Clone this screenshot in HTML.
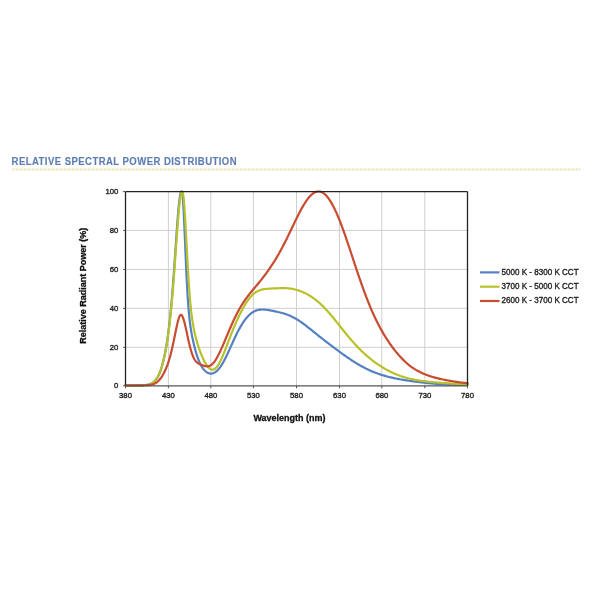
<!DOCTYPE html>
<html><head><meta charset="utf-8"><style>
html,body{margin:0;padding:0;background:#fff;width:600px;height:600px;overflow:hidden}
svg{display:block;position:absolute;left:0;top:0;filter:blur(0.4px)}
text{font-family:"Liberation Sans",sans-serif}
</style></head><body>
<svg width="600" height="600" viewBox="0 0 600 600">
<g transform="translate(11.6,0) scale(0.9,1)"><text x="0" y="164.8" font-size="10.6" font-weight="bold" fill="#5d7db2" stroke="#5d7db2" stroke-width="0.15" textLength="250" lengthAdjust="spacing">RELATIVE SPECTRAL POWER DISTRIBUTION</text></g>
<line x1="12" y1="169.4" x2="581" y2="169.4" stroke="#faf7e2" stroke-width="3"/><line x1="12" y1="169.4" x2="581" y2="169.4" stroke="#ede8c8" stroke-width="1.6" stroke-dasharray="2 2"/>
<g stroke="#cfcfcf" stroke-width="1"><line x1="168.40" y1="191.60" x2="168.40" y2="385.80"/><line x1="210.80" y1="191.60" x2="210.80" y2="385.80"/><line x1="253.40" y1="191.60" x2="253.40" y2="385.80"/><line x1="296.50" y1="191.60" x2="296.50" y2="385.80"/><line x1="339.50" y1="191.60" x2="339.50" y2="385.80"/><line x1="381.80" y1="191.60" x2="381.80" y2="385.80"/><line x1="424.80" y1="191.60" x2="424.80" y2="385.80"/><line x1="125.50" y1="347.30" x2="467.50" y2="347.30"/><line x1="125.50" y1="308.35" x2="467.50" y2="308.35"/><line x1="125.50" y1="269.40" x2="467.50" y2="269.40"/><line x1="125.50" y1="230.40" x2="467.50" y2="230.40"/></g>
<g fill="none" stroke-width="2.2" stroke-linejoin="round" stroke-linecap="round">
<path d="M125.50,385.50 126.50,385.50 127.50,385.49 128.50,385.49 129.50,385.49 130.50,385.49 131.50,385.48 132.50,385.48 133.50,385.47 134.50,385.47 135.50,385.46 136.50,385.44 137.50,385.43 138.50,385.41 139.50,385.38 140.50,385.35 141.50,385.31 142.50,385.26 143.50,385.20 144.50,385.12 145.50,385.01 146.50,384.88 147.50,384.71 148.50,384.49 149.50,384.22 150.50,383.87 151.50,383.43 152.50,382.87 153.50,382.18 154.50,381.32 155.50,380.26 156.50,378.97 157.50,377.41 158.50,375.55 159.50,373.34 160.50,370.74 161.50,367.73 162.50,364.27 163.50,360.31 164.50,355.81 165.00,353.34 165.25,352.05 165.50,350.72 165.75,349.35 166.00,347.94 166.25,346.48 166.50,344.98 166.75,343.43 167.00,341.83 167.25,340.19 167.50,338.49 167.75,336.74 168.00,334.93 168.25,333.07 168.50,331.15 168.75,329.16 169.00,327.11 169.25,325.00 169.50,322.82 169.75,320.57 170.00,318.25 170.25,315.86 170.50,313.39 170.75,310.84 171.00,308.22 171.25,305.52 171.50,302.74 171.75,299.88 172.00,296.95 172.25,293.93 172.50,290.84 172.75,287.67 173.00,284.43 173.25,281.12 173.50,277.74 173.75,274.30 174.00,270.81 174.25,267.26 174.50,263.67 174.75,260.04 175.00,256.39 175.25,252.72 175.50,249.04 175.75,245.36 176.00,241.69 176.25,238.05 176.50,234.45 176.75,230.90 177.00,227.42 177.25,224.01 177.50,220.70 177.75,217.50 178.00,214.42 178.25,211.47 178.50,208.68 178.75,206.06 179.00,203.61 179.25,201.36 179.50,199.31 179.75,197.48 180.00,195.88 180.25,194.51 180.50,193.39 180.75,192.52 181.00,191.91 181.25,191.56 181.50,191.48 181.75,191.67 182.00,192.18 182.25,193.33 182.50,195.16 182.75,197.65 183.00,200.76 183.25,204.44 183.50,208.65 183.75,213.31 184.00,218.36 184.25,223.73 184.50,229.34 184.75,235.13 185.00,241.02 185.25,246.95 185.50,252.85 185.75,258.66 186.00,264.35 186.25,269.86 186.50,275.16 186.75,280.22 187.00,285.03 187.25,289.57 187.50,293.84 187.75,297.83 188.00,301.55 188.25,305.00 188.50,308.21 188.75,311.18 189.00,313.93 189.25,316.47 189.50,318.83 189.75,321.02 190.00,323.06 190.25,324.97 190.50,326.76 190.75,328.44 191.00,330.03 191.25,331.54 191.50,332.98 191.75,334.35 192.00,335.68 192.25,336.95 192.50,338.18 192.75,339.38 193.00,340.54 193.25,341.66 193.50,342.76 193.75,343.83 194.00,344.88 194.25,345.90 194.50,346.90 194.75,347.87 195.00,348.82 195.25,349.75 195.50,350.65 195.75,351.53 196.00,352.40 196.25,353.24 196.50,354.05 196.75,354.85 197.00,355.62 197.25,356.38 197.50,357.11 197.75,357.82 198.00,358.52 198.25,359.19 198.50,359.84 198.75,360.47 199.00,361.08 199.25,361.68 199.50,362.25 199.75,362.81 200.00,363.35 200.25,363.87 200.50,364.37 200.75,364.85 201.00,365.32 201.25,365.77 201.50,366.21 201.75,366.63 202.00,367.04 202.25,367.43 202.50,367.80 202.75,368.16 203.00,368.51 203.25,368.85 203.50,369.17 203.75,369.47 204.00,369.77 204.25,370.05 204.50,370.32 204.75,370.58 205.00,370.82 205.25,371.06 205.50,371.28 205.75,371.49 206.00,371.69 206.25,371.88 206.50,372.06 206.75,372.23 207.00,372.39 207.25,372.53 207.50,372.67 207.75,372.80 208.00,372.92 208.25,373.03 208.50,373.12 208.75,373.21 209.00,373.29 209.25,373.36 209.50,373.42 209.75,373.47 210.00,373.51 210.25,373.54 210.50,373.57 210.75,373.58 211.00,373.58 211.25,373.58 211.50,373.56 211.75,373.54 212.00,373.50 212.25,373.46 212.50,373.40 212.75,373.34 213.00,373.27 213.25,373.19 213.50,373.10 213.75,373.00 214.00,372.88 214.25,372.76 214.50,372.64 214.75,372.50 215.00,372.35 216.00,371.66 217.00,370.81 218.00,369.81 219.00,368.67 220.00,367.37 221.00,365.94 222.00,364.38 223.00,362.68 224.00,360.88 225.00,358.97 226.00,356.98 227.00,354.91 228.00,352.78 229.00,350.60 230.00,348.39 231.00,346.17 232.00,343.95 233.00,341.74 234.00,339.56 235.00,337.42 236.00,335.32 237.00,333.29 238.00,331.32 239.00,329.42 240.00,327.60 241.00,325.87 242.00,324.22 243.00,322.66 244.00,321.19 245.00,319.82 246.00,318.53 247.00,317.34 248.00,316.24 249.00,315.23 250.00,314.31 251.00,313.48 252.00,312.74 253.00,312.08 254.00,311.51 255.00,311.02 256.00,310.60 257.00,310.26 258.00,309.99 259.00,309.79 260.00,309.64 261.00,309.55 262.00,309.51 263.00,309.51 264.00,309.56 265.00,309.63 266.00,309.74 267.00,309.87 268.00,310.02 269.00,310.18 270.00,310.36 271.00,310.55 272.00,310.75 273.00,310.95 274.00,311.15 275.00,311.36 276.00,311.57 277.00,311.79 278.00,312.01 279.00,312.24 280.00,312.48 281.00,312.73 282.00,312.99 283.00,313.26 284.00,313.56 285.00,313.86 286.00,314.19 287.00,314.54 288.00,314.91 289.00,315.31 290.00,315.73 291.00,316.18 292.00,316.66 293.00,317.16 294.00,317.68 295.00,318.24 296.00,318.82 297.00,319.42 298.00,320.05 299.00,320.70 300.00,321.37 301.00,322.06 302.00,322.76 303.00,323.49 304.00,324.23 305.00,324.98 306.00,325.74 307.00,326.51 308.00,327.30 309.00,328.08 310.00,328.88 311.00,329.68 312.00,330.48 313.00,331.28 314.00,332.08 315.00,332.89 316.00,333.69 317.00,334.49 318.00,335.30 319.00,336.09 320.00,336.89 321.00,337.68 322.00,338.47 323.00,339.26 324.00,340.04 325.00,340.82 326.00,341.60 327.00,342.37 328.00,343.14 329.00,343.90 330.00,344.67 331.00,345.43 332.00,346.18 333.00,346.94 334.00,347.69 335.00,348.43 336.00,349.18 337.00,349.92 338.00,350.65 339.00,351.39 340.00,352.12 341.00,352.84 342.00,353.56 343.00,354.28 344.00,354.99 345.00,355.70 346.00,356.40 347.00,357.09 348.00,357.78 349.00,358.46 350.00,359.14 351.00,359.80 352.00,360.46 353.00,361.11 354.00,361.75 355.00,362.38 356.00,363.01 357.00,363.62 358.00,364.22 359.00,364.81 360.00,365.39 361.00,365.95 362.00,366.51 363.00,367.05 364.00,367.58 365.00,368.10 366.00,368.61 367.00,369.10 368.00,369.58 369.00,370.05 370.00,370.50 371.00,370.95 372.00,371.38 373.00,371.79 374.00,372.20 375.00,372.59 376.00,372.97 377.00,373.34 378.00,373.70 379.00,374.04 380.00,374.38 381.00,374.70 382.00,375.02 383.00,375.32 384.00,375.62 385.00,375.90 386.00,376.18 387.00,376.44 388.00,376.70 389.00,376.95 390.00,377.20 391.00,377.43 392.00,377.66 393.00,377.88 394.00,378.10 395.00,378.31 396.00,378.51 397.00,378.71 398.00,378.91 399.00,379.10 400.00,379.28 401.00,379.46 402.00,379.64 403.00,379.81 404.00,379.98 405.00,380.14 406.00,380.31 407.00,380.46 408.00,380.62 409.00,380.77 410.00,380.92 411.00,381.07 412.00,381.21 413.00,381.35 414.00,381.49 415.00,381.63 416.00,381.76 417.00,381.89 418.00,382.02 419.00,382.14 420.00,382.26 421.00,382.38 422.00,382.50 423.00,382.61 424.00,382.72 425.00,382.83 426.00,382.94 427.00,383.04 428.00,383.14 429.00,383.24 430.00,383.33 431.00,383.43 432.00,383.52 433.00,383.60 434.00,383.68 435.00,383.76 436.00,383.84 437.00,383.92 438.00,383.99 439.00,384.05 440.00,384.12 441.00,384.18 442.00,384.24 443.00,384.30 444.00,384.35 445.00,384.40 446.00,384.45 447.00,384.50 448.00,384.54 449.00,384.58 450.00,384.62 451.00,384.66 452.00,384.69 453.00,384.72 454.00,384.75 455.00,384.78 456.00,384.81 457.00,384.83 458.00,384.85 459.00,384.88 460.00,384.89 461.00,384.91 462.00,384.93 463.00,384.94 464.00,384.96 465.00,384.97 466.00,384.98 467.00,385.00 467.50,385.00" stroke="#5580c4"/>
<path d="M125.50,385.50 126.50,385.50 127.50,385.50 128.50,385.50 129.50,385.50 130.50,385.50 131.50,385.50 132.50,385.50 133.50,385.50 134.50,385.49 135.50,385.49 136.50,385.49 137.50,385.48 138.50,385.47 139.50,385.45 140.50,385.43 141.50,385.41 142.50,385.37 143.50,385.31 144.50,385.24 145.50,385.15 146.50,385.02 147.50,384.85 148.50,384.62 149.50,384.33 150.50,383.96 151.50,383.49 152.50,382.90 153.50,382.17 154.50,381.26 155.50,380.16 156.50,378.83 157.50,377.23 158.50,375.35 159.50,373.14 160.50,370.58 161.50,367.63 162.50,364.26 163.50,360.43 164.50,356.10 165.00,353.74 165.25,352.50 165.50,351.23 165.75,349.91 166.00,348.56 166.25,347.17 166.50,345.73 166.75,344.25 167.00,342.72 167.25,341.15 167.50,339.53 167.75,337.86 168.00,336.13 168.25,334.36 168.50,332.52 168.75,330.63 169.00,328.68 169.25,326.67 169.50,324.59 169.75,322.46 170.00,320.25 170.25,317.98 170.50,315.63 170.75,313.22 171.00,310.73 171.25,308.17 171.50,305.54 171.75,302.83 172.00,300.06 172.25,297.20 172.50,294.28 172.75,291.28 173.00,288.22 173.25,285.09 173.50,281.90 173.75,278.64 174.00,275.33 174.25,271.97 174.50,268.56 174.75,265.12 175.00,261.63 175.25,258.13 175.50,254.60 175.75,251.07 176.00,247.53 176.25,244.00 176.50,240.50 176.75,237.02 177.00,233.58 177.25,230.20 177.50,226.89 177.75,223.65 178.00,220.50 178.25,217.45 178.50,214.51 178.75,211.70 179.00,209.04 179.25,206.52 179.50,204.16 179.75,201.97 180.00,199.97 180.25,198.16 180.50,196.56 180.75,195.16 181.00,193.98 181.25,193.02 181.50,192.29 181.75,191.79 182.00,191.53 182.25,191.51 182.50,191.74 182.75,192.38 183.00,193.48 183.25,195.02 183.50,196.98 183.75,199.35 184.00,202.10 184.25,205.20 184.50,208.62 184.75,212.33 185.00,216.30 185.25,220.48 185.50,224.83 185.75,229.33 186.00,233.93 186.25,238.60 186.50,243.30 186.75,248.00 187.00,252.66 187.25,257.27 187.50,261.79 187.75,266.21 188.00,270.51 188.25,274.66 188.50,278.66 188.75,282.51 189.00,286.18 189.25,289.68 189.50,293.02 189.75,296.17 190.00,299.17 190.25,301.99 190.50,304.66 190.75,307.17 191.00,309.54 191.25,311.77 191.50,313.87 191.75,315.85 192.00,317.73 192.25,319.49 192.50,321.17 192.75,322.76 193.00,324.26 193.25,325.70 193.50,327.07 193.75,328.39 194.00,329.64 194.25,330.85 194.50,332.02 194.75,333.14 195.00,334.23 195.25,335.28 195.50,336.31 195.75,337.30 196.00,338.27 196.25,339.21 196.50,340.13 196.75,341.03 197.00,341.91 197.25,342.77 197.50,343.61 197.75,344.43 198.00,345.23 198.25,346.02 198.50,346.79 198.75,347.55 199.00,348.29 199.25,349.02 199.50,349.73 199.75,350.43 200.00,351.12 200.25,351.79 200.50,352.45 200.75,353.10 201.00,353.73 201.25,354.36 201.50,354.97 201.75,355.57 202.00,356.16 202.25,356.74 202.50,357.30 202.75,357.86 203.00,358.40 203.25,358.93 203.50,359.46 203.75,359.97 204.00,360.47 204.25,360.96 204.50,361.44 204.75,361.91 205.00,362.36 205.25,362.81 205.50,363.24 205.75,363.66 206.00,364.07 206.25,364.47 206.50,364.85 206.75,365.23 207.00,365.59 207.25,365.93 207.50,366.27 207.75,366.58 208.00,366.89 208.25,367.18 208.50,367.46 208.75,367.72 209.00,367.96 209.25,368.19 209.50,368.41 209.75,368.61 210.00,368.79 210.25,368.96 210.50,369.10 210.75,369.24 211.00,369.35 211.25,369.45 211.50,369.53 211.75,369.59 212.00,369.63 212.25,369.66 212.50,369.67 212.75,369.66 213.00,369.63 213.25,369.58 213.50,369.51 213.75,369.43 214.00,369.33 214.25,369.21 214.50,369.07 214.75,368.91 215.00,368.74 216.00,367.86 217.00,366.72 218.00,365.32 219.00,363.68 220.00,361.83 221.00,359.79 222.00,357.59 223.00,355.26 224.00,352.82 225.00,350.29 226.00,347.72 227.00,345.10 228.00,342.47 229.00,339.85 230.00,337.25 231.00,334.68 232.00,332.15 233.00,329.67 234.00,327.25 235.00,324.88 236.00,322.58 237.00,320.35 238.00,318.17 239.00,316.07 240.00,314.02 241.00,312.05 242.00,310.14 243.00,308.30 244.00,306.53 245.00,304.83 246.00,303.22 247.00,301.69 248.00,300.24 249.00,298.89 250.00,297.62 251.00,296.46 252.00,295.38 253.00,294.41 254.00,293.53 255.00,292.75 256.00,292.06 257.00,291.46 258.00,290.93 259.00,290.48 260.00,290.11 261.00,289.79 262.00,289.53 263.00,289.32 264.00,289.14 265.00,289.00 266.00,288.89 267.00,288.80 268.00,288.73 269.00,288.66 270.00,288.61 271.00,288.56 272.00,288.51 273.00,288.47 274.00,288.42 275.00,288.38 276.00,288.33 277.00,288.29 278.00,288.25 279.00,288.21 280.00,288.18 281.00,288.15 282.00,288.14 283.00,288.13 284.00,288.14 285.00,288.16 286.00,288.20 287.00,288.26 288.00,288.33 289.00,288.43 290.00,288.54 291.00,288.68 292.00,288.84 293.00,289.02 294.00,289.23 295.00,289.46 296.00,289.72 297.00,289.99 298.00,290.30 299.00,290.63 300.00,290.98 301.00,291.35 302.00,291.75 303.00,292.18 304.00,292.63 305.00,293.10 306.00,293.61 307.00,294.13 308.00,294.68 309.00,295.26 310.00,295.87 311.00,296.50 312.00,297.16 313.00,297.85 314.00,298.57 315.00,299.32 316.00,300.10 317.00,300.90 318.00,301.74 319.00,302.60 320.00,303.50 321.00,304.42 322.00,305.37 323.00,306.35 324.00,307.36 325.00,308.40 326.00,309.46 327.00,310.54 328.00,311.65 329.00,312.78 330.00,313.93 331.00,315.10 332.00,316.29 333.00,317.50 334.00,318.72 335.00,319.95 336.00,321.19 337.00,322.43 338.00,323.69 339.00,324.95 340.00,326.21 341.00,327.47 342.00,328.73 343.00,329.98 344.00,331.23 345.00,332.48 346.00,333.71 347.00,334.94 348.00,336.15 349.00,337.35 350.00,338.53 351.00,339.71 352.00,340.86 353.00,342.00 354.00,343.12 355.00,344.22 356.00,345.30 357.00,346.37 358.00,347.41 359.00,348.44 360.00,349.44 361.00,350.43 362.00,351.40 363.00,352.35 364.00,353.28 365.00,354.19 366.00,355.08 367.00,355.95 368.00,356.81 369.00,357.64 370.00,358.46 371.00,359.27 372.00,360.05 373.00,360.82 374.00,361.57 375.00,362.31 376.00,363.03 377.00,363.74 378.00,364.43 379.00,365.10 380.00,365.76 381.00,366.41 382.00,367.04 383.00,367.66 384.00,368.26 385.00,368.84 386.00,369.41 387.00,369.97 388.00,370.51 389.00,371.03 390.00,371.54 391.00,372.04 392.00,372.52 393.00,372.98 394.00,373.43 395.00,373.87 396.00,374.29 397.00,374.70 398.00,375.09 399.00,375.47 400.00,375.83 401.00,376.18 402.00,376.52 403.00,376.84 404.00,377.15 405.00,377.44 406.00,377.73 407.00,378.00 408.00,378.26 409.00,378.51 410.00,378.75 411.00,378.98 412.00,379.19 413.00,379.40 414.00,379.60 415.00,379.79 416.00,379.97 417.00,380.14 418.00,380.31 419.00,380.47 420.00,380.62 421.00,380.77 422.00,380.91 423.00,381.04 424.00,381.17 425.00,381.30 426.00,381.42 427.00,381.53 428.00,381.65 429.00,381.75 430.00,381.86 431.00,381.96 432.00,382.06 433.00,382.15 434.00,382.25 435.00,382.34 436.00,382.43 437.00,382.51 438.00,382.60 439.00,382.68 440.00,382.76 441.00,382.84 442.00,382.91 443.00,382.99 444.00,383.06 445.00,383.13 446.00,383.20 447.00,383.27 448.00,383.34 449.00,383.41 450.00,383.47 451.00,383.53 452.00,383.60 453.00,383.66 454.00,383.72 455.00,383.77 456.00,383.83 457.00,383.89 458.00,383.94 459.00,384.00 460.00,384.05 461.00,384.10 462.00,384.15 463.00,384.20 464.00,384.24 465.00,384.29 466.00,384.33 467.00,384.38 467.50,384.40" stroke="#b7c22a"/>
<path d="M125.50,385.42 126.50,385.41 127.50,385.41 128.50,385.41 129.50,385.40 130.50,385.40 131.50,385.40 132.50,385.39 133.50,385.39 134.50,385.38 135.50,385.38 136.50,385.37 137.50,385.36 138.50,385.36 139.50,385.35 140.50,385.34 141.50,385.33 142.50,385.31 143.50,385.30 144.50,385.27 145.50,385.24 146.50,385.20 147.50,385.14 148.50,385.06 149.50,384.95 150.50,384.81 151.50,384.62 152.50,384.37 153.50,384.06 154.50,383.65 155.50,383.14 156.50,382.52 157.50,381.76 158.50,380.86 159.50,379.79 160.50,378.56 161.50,377.16 162.50,375.58 163.50,373.82 164.50,371.87 165.00,370.81 165.25,370.27 165.50,369.71 165.75,369.14 166.00,368.55 166.25,367.95 166.50,367.33 166.75,366.70 167.00,366.05 167.25,365.38 167.50,364.70 167.75,364.00 168.00,363.28 168.25,362.55 168.50,361.79 168.75,361.01 169.00,360.22 169.25,359.40 169.50,358.56 169.75,357.70 170.00,356.81 170.25,355.91 170.50,354.98 170.75,354.02 171.00,353.05 171.25,352.05 171.50,351.02 171.75,349.98 172.00,348.91 172.25,347.82 172.50,346.71 172.75,345.58 173.00,344.43 173.25,343.27 173.50,342.08 173.75,340.89 174.00,339.68 174.25,338.46 174.50,337.23 174.75,336.00 175.00,334.77 175.25,333.53 175.50,332.30 175.75,331.08 176.00,329.87 176.25,328.68 176.50,327.50 176.75,326.35 177.00,325.22 177.25,324.12 177.50,323.07 177.75,322.05 178.00,321.08 178.25,320.16 178.50,319.29 178.75,318.49 179.00,317.75 179.25,317.09 179.50,316.50 179.75,315.99 180.00,315.57 180.25,315.23 180.50,314.99 180.75,314.85 181.00,314.81 181.25,314.86 181.50,315.02 181.75,315.28 182.00,315.61 182.25,316.02 182.50,316.50 182.75,317.05 183.00,317.67 183.25,318.35 183.50,319.10 183.75,319.90 184.00,320.75 184.25,321.65 184.50,322.60 184.75,323.58 185.00,324.61 185.25,325.66 185.50,326.75 185.75,327.85 186.00,328.98 186.25,330.12 186.50,331.27 186.75,332.43 187.00,333.60 187.25,334.76 187.50,335.93 187.75,337.08 188.00,338.23 188.25,339.37 188.50,340.49 188.75,341.60 189.00,342.68 189.25,343.75 189.50,344.79 189.75,345.81 190.00,346.80 190.25,347.76 190.50,348.69 190.75,349.60 191.00,350.47 191.25,351.31 191.50,352.12 191.75,352.90 192.00,353.64 192.25,354.35 192.50,355.03 192.75,355.67 193.00,356.29 193.25,356.87 193.50,357.42 193.75,357.94 194.00,358.43 194.25,358.89 194.50,359.33 194.75,359.74 195.00,360.12 195.25,360.48 195.50,360.81 195.75,361.13 196.00,361.42 196.25,361.70 196.50,361.95 196.75,362.19 197.00,362.42 197.25,362.63 197.50,362.82 197.75,363.01 198.00,363.18 198.25,363.34 198.50,363.50 198.75,363.64 199.00,363.78 199.25,363.92 199.50,364.04 199.75,364.16 200.00,364.28 200.25,364.40 200.50,364.51 200.75,364.61 201.00,364.72 201.25,364.82 201.50,364.92 201.75,365.02 202.00,365.11 202.25,365.21 202.50,365.30 202.75,365.39 203.00,365.47 203.25,365.56 203.50,365.64 203.75,365.72 204.00,365.80 204.25,365.87 204.50,365.94 204.75,366.00 205.00,366.06 205.25,366.12 205.50,366.17 205.75,366.21 206.00,366.25 206.25,366.28 206.50,366.30 206.75,366.32 207.00,366.33 207.25,366.33 207.50,366.32 207.75,366.30 208.00,366.28 208.25,366.24 208.50,366.19 208.75,366.14 209.00,366.07 209.25,365.99 209.50,365.90 209.75,365.80 210.00,365.68 210.25,365.56 210.50,365.42 210.75,365.27 211.00,365.11 211.25,364.93 211.50,364.75 211.75,364.55 212.00,364.33 212.25,364.11 212.50,363.87 212.75,363.62 213.00,363.36 213.25,363.09 213.50,362.80 213.75,362.51 214.00,362.20 214.25,361.88 214.50,361.54 214.75,361.20 215.00,360.85 216.00,359.32 217.00,357.63 218.00,355.80 219.00,353.85 220.00,351.78 221.00,349.62 222.00,347.39 223.00,345.09 224.00,342.75 225.00,340.38 226.00,338.00 227.00,335.60 228.00,333.21 229.00,330.84 230.00,328.50 231.00,326.19 232.00,323.93 233.00,321.71 234.00,319.55 235.00,317.45 236.00,315.42 237.00,313.45 238.00,311.55 239.00,309.72 240.00,307.96 241.00,306.27 242.00,304.64 243.00,303.07 244.00,301.56 245.00,300.10 246.00,298.69 247.00,297.33 248.00,296.00 249.00,294.71 250.00,293.44 251.00,292.20 252.00,290.98 253.00,289.77 254.00,288.57 255.00,287.37 256.00,286.17 257.00,284.97 258.00,283.76 259.00,282.55 260.00,281.32 261.00,280.08 262.00,278.82 263.00,277.54 264.00,276.24 265.00,274.92 266.00,273.58 267.00,272.21 268.00,270.82 269.00,269.40 270.00,267.95 271.00,266.47 272.00,264.96 273.00,263.42 274.00,261.84 275.00,260.23 276.00,258.58 277.00,256.90 278.00,255.19 279.00,253.43 280.00,251.64 281.00,249.82 282.00,247.96 283.00,246.06 284.00,244.13 285.00,242.17 286.00,240.18 287.00,238.17 288.00,236.13 289.00,234.07 290.00,232.00 291.00,229.91 292.00,227.82 293.00,225.73 294.00,223.65 295.00,221.57 296.00,219.52 297.00,217.48 298.00,215.48 299.00,213.51 300.00,211.58 301.00,209.71 302.00,207.89 303.00,206.14 304.00,204.46 305.00,202.85 306.00,201.33 307.00,199.89 308.00,198.56 309.00,197.32 310.00,196.19 311.00,195.17 312.00,194.27 313.00,193.49 314.00,192.83 315.00,192.30 316.00,191.90 317.00,191.63 318.00,191.50 319.00,191.50 320.00,191.64 321.00,191.92 322.00,192.34 323.00,192.89 324.00,193.59 325.00,194.42 326.00,195.38 327.00,196.48 328.00,197.71 329.00,199.06 330.00,200.55 331.00,202.15 332.00,203.87 333.00,205.71 334.00,207.66 335.00,209.71 336.00,211.87 337.00,214.12 338.00,216.47 339.00,218.90 340.00,221.41 341.00,224.00 342.00,226.65 343.00,229.38 344.00,232.15 345.00,234.99 346.00,237.86 347.00,240.78 348.00,243.73 349.00,246.71 350.00,249.71 351.00,252.73 352.00,255.76 353.00,258.79 354.00,261.82 355.00,264.85 356.00,267.86 357.00,270.85 358.00,273.83 359.00,276.77 360.00,279.69 361.00,282.57 362.00,285.41 363.00,288.21 364.00,290.96 365.00,293.66 366.00,296.32 367.00,298.92 368.00,301.46 369.00,303.95 370.00,306.38 371.00,308.75 372.00,311.07 373.00,313.32 374.00,315.52 375.00,317.67 376.00,319.75 377.00,321.78 378.00,323.76 379.00,325.68 380.00,327.55 381.00,329.38 382.00,331.15 383.00,332.88 384.00,334.57 385.00,336.21 386.00,337.81 387.00,339.37 388.00,340.90 389.00,342.38 390.00,343.83 391.00,345.25 392.00,346.63 393.00,347.98 394.00,349.29 395.00,350.57 396.00,351.82 397.00,353.03 398.00,354.22 399.00,355.37 400.00,356.48 401.00,357.57 402.00,358.62 403.00,359.64 404.00,360.62 405.00,361.57 406.00,362.49 407.00,363.38 408.00,364.23 409.00,365.05 410.00,365.84 411.00,366.59 412.00,367.32 413.00,368.01 414.00,368.68 415.00,369.31 416.00,369.92 417.00,370.50 418.00,371.06 419.00,371.59 420.00,372.10 421.00,372.58 422.00,373.04 423.00,373.49 424.00,373.91 425.00,374.32 426.00,374.71 427.00,375.08 428.00,375.44 429.00,375.78 430.00,376.11 431.00,376.43 432.00,376.74 433.00,377.03 434.00,377.32 435.00,377.59 436.00,377.86 437.00,378.12 438.00,378.37 439.00,378.61 440.00,378.84 441.00,379.07 442.00,379.29 443.00,379.51 444.00,379.72 445.00,379.92 446.00,380.12 447.00,380.31 448.00,380.49 449.00,380.67 450.00,380.85 451.00,381.02 452.00,381.19 453.00,381.35 454.00,381.50 455.00,381.66 456.00,381.80 457.00,381.95 458.00,382.09 459.00,382.22 460.00,382.35 461.00,382.48 462.00,382.60 463.00,382.72 464.00,382.84 465.00,382.95 466.00,383.06 467.00,383.16 467.50,383.21" stroke="#c84c30"/>
</g>
<g stroke="#222" stroke-width="1.3">
<line x1="125.5" y1="191.6" x2="467.5" y2="191.6"/>
<line x1="125.5" y1="191.6" x2="125.5" y2="385.8"/>
<line x1="467.5" y1="191.6" x2="467.5" y2="385.8"/>
</g>
<line x1="125.5" y1="385.8" x2="467.5" y2="385.8" stroke="#555" stroke-width="1.2"/>
<g stroke="#555" stroke-width="1"><line x1="125.50" y1="385.80" x2="125.50" y2="388.30"/><line x1="168.40" y1="385.80" x2="168.40" y2="388.30"/><line x1="210.80" y1="385.80" x2="210.80" y2="388.30"/><line x1="253.40" y1="385.80" x2="253.40" y2="388.30"/><line x1="296.50" y1="385.80" x2="296.50" y2="388.30"/><line x1="339.50" y1="385.80" x2="339.50" y2="388.30"/><line x1="381.80" y1="385.80" x2="381.80" y2="388.30"/><line x1="424.80" y1="385.80" x2="424.80" y2="388.30"/><line x1="467.50" y1="385.80" x2="467.50" y2="388.30"/><line x1="123.00" y1="385.80" x2="125.50" y2="385.80"/><line x1="123.00" y1="347.30" x2="125.50" y2="347.30"/><line x1="123.00" y1="308.35" x2="125.50" y2="308.35"/><line x1="123.00" y1="269.40" x2="125.50" y2="269.40"/><line x1="123.00" y1="230.40" x2="125.50" y2="230.40"/><line x1="123.00" y1="191.60" x2="125.50" y2="191.60"/></g>
<g font-size="7.7" fill="#2a2a2a" stroke="#2a2a2a" stroke-width="0.4"><text x="125.50" y="397.60" text-anchor="middle">380</text><text x="168.40" y="397.60" text-anchor="middle">430</text><text x="210.80" y="397.60" text-anchor="middle">480</text><text x="253.40" y="397.60" text-anchor="middle">530</text><text x="296.50" y="397.60" text-anchor="middle">580</text><text x="339.50" y="397.60" text-anchor="middle">630</text><text x="381.80" y="397.60" text-anchor="middle">680</text><text x="424.80" y="397.60" text-anchor="middle">730</text><text x="467.50" y="397.60" text-anchor="middle">780</text><text x="118.40" y="388.40" text-anchor="end">0</text><text x="118.40" y="349.90" text-anchor="end">20</text><text x="118.40" y="310.95" text-anchor="end">40</text><text x="118.40" y="272.00" text-anchor="end">60</text><text x="118.40" y="233.00" text-anchor="end">80</text><text x="118.40" y="194.20" text-anchor="end">100</text></g>
<text x="289.5" y="420.8" font-size="9" font-weight="bold" fill="#111" stroke="#111" stroke-width="0.3" text-anchor="middle">Wavelength (nm)</text>
<text transform="translate(85.6,285.8) rotate(-90)" x="0" y="0" font-size="9" font-weight="bold" fill="#111" stroke="#111" stroke-width="0.3" text-anchor="middle">Relative Radiant Power (%)</text>
<g stroke-width="2.2">
<line x1="480" y1="272.4" x2="499.5" y2="272.4" stroke="#5580c4"/>
<line x1="480" y1="286.7" x2="499.5" y2="286.7" stroke="#b7c22a"/>
<line x1="480" y1="301" x2="499.5" y2="301" stroke="#c84c30"/>
</g>
<g font-size="8.5" fill="#222" stroke="#222" stroke-width="0.35">
<text x="501.6" y="274.7" textLength="77" lengthAdjust="spacingAndGlyphs">5000 K - 8300 K CCT</text>
<text x="501.6" y="288.95" textLength="77" lengthAdjust="spacingAndGlyphs">3700 K - 5000 K CCT</text>
<text x="501.6" y="303.2" textLength="77" lengthAdjust="spacingAndGlyphs">2600 K - 3700 K CCT</text>
</g>
</svg>
</body></html>
